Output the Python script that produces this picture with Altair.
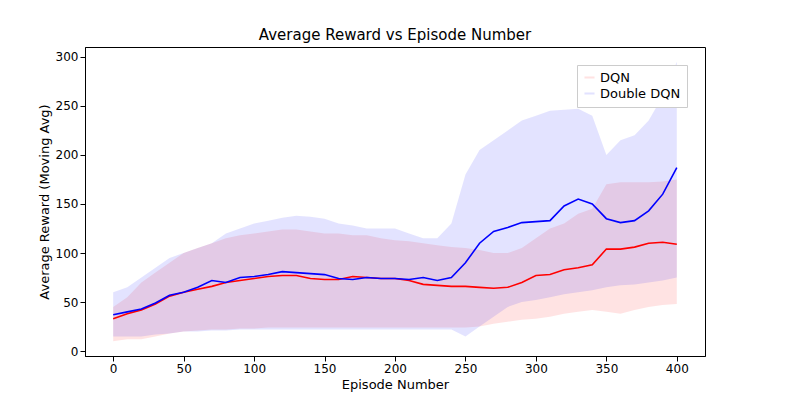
import altair as alt
import pandas as pd

episodes = list(range(0, 401, 10))
dqn_mean = [33,38,42,48,56,60,63,66,70,72,74,76,77,77,74,73,73,76,75,74,74,72,68,67,66,66,65,64,65,70,77,78,83,85,88,104,104,106,110,111,109]
dqn_hi = [45,55,70,80,90,100,105,110,115,118,120,122,124,124,122,120,120,118,118,115,113,112,110,108,106,105,103,100,100,105,115,125,130,140,145,170,172,172,172,173,175]
dqn_lo = [10,12,12,15,18,20,21,22,22,23,23,24,24,24,24,24,24,24,24,24,24,24,24,24,24,24,25,28,30,32,33,35,38,40,42,40,38,42,45,47,48]
dd_mean = [37,40,43,49,57,60,65,72,70,75,76,78,81,80,79,78,74,73,75,74,74,73,75,72,75,90,110,122,126,131,132,133,148,155,150,135,131,133,143,160,187]
dd_hi = [60,65,75,85,95,100,105,110,120,125,130,133,136,138,137,135,130,128,125,125,125,120,115,115,130,180,205,215,225,235,240,245,246,247,240,200,215,220,235,260,295]
dd_lo = [15,15,15,17,18,20,20,21,21,22,22,22,22,22,22,22,22,22,22,22,22,22,22,22,22,15,25,35,45,50,52,55,58,60,62,65,67,68,70,72,75]

rows = []
for i, e in enumerate(episodes):
    rows.append(dict(ep=e, s="DQN", m=dqn_mean[i], hi=dqn_hi[i], lo=dqn_lo[i]))
    rows.append(dict(ep=e, s="Double DQN", m=dd_mean[i], hi=dd_hi[i], lo=dd_lo[i]))
df = pd.DataFrame(rows)

color = alt.Color("s:N", scale=alt.Scale(domain=["DQN", "Double DQN"], range=["#ff0000", "#0000ff"]),
                  legend=alt.Legend(title=None, orient="top-right", strokeColor="#cccccc", fillColor="white",
                                    padding=6, symbolType="stroke", labelFontSize=13, symbolStrokeWidth=2))
yscale = alt.Scale(domain=[-5, 310], nice=False)
x = alt.X("ep:Q", title="Episode Number", scale=alt.Scale(domain=[-20, 420], nice=False),
          axis=alt.Axis(values=list(range(0, 401, 50)), grid=False, titleFontWeight="normal", titleFontSize=13, labelFontSize=12))
y = alt.Y("m:Q", title="Average Reward (Moving Avg)", scale=yscale,
          axis=alt.Axis(values=list(range(0, 301, 50)), grid=False, titleFontWeight="normal", titleFontSize=13, labelFontSize=12))

band = alt.Chart(df).mark_area(opacity=0.11).encode(x=x, y=alt.Y("lo:Q", scale=yscale), y2="hi:Q", color=color)
line = alt.Chart(df).mark_line(strokeWidth=1.6).encode(x=x, y=y, color=color)

chart = alt.layer(band, line).properties(
    width=620, height=309,
    padding={"left": 30, "top": 20, "right": 5, "bottom": 5},
    title=alt.Title("Average Reward vs Episode Number", fontSize=15, fontWeight="normal"),
).configure_view(stroke="black").configure_axis(
    domainColor="black", tickColor="black", labelColor="black", titleColor="black",
    labelFont="DejaVu Sans", titleFont="DejaVu Sans"
).configure_title(font="DejaVu Sans").configure_legend(labelFont="DejaVu Sans")
chart.save("out.html", embed_options={"renderer": "svg", "actions": False})
